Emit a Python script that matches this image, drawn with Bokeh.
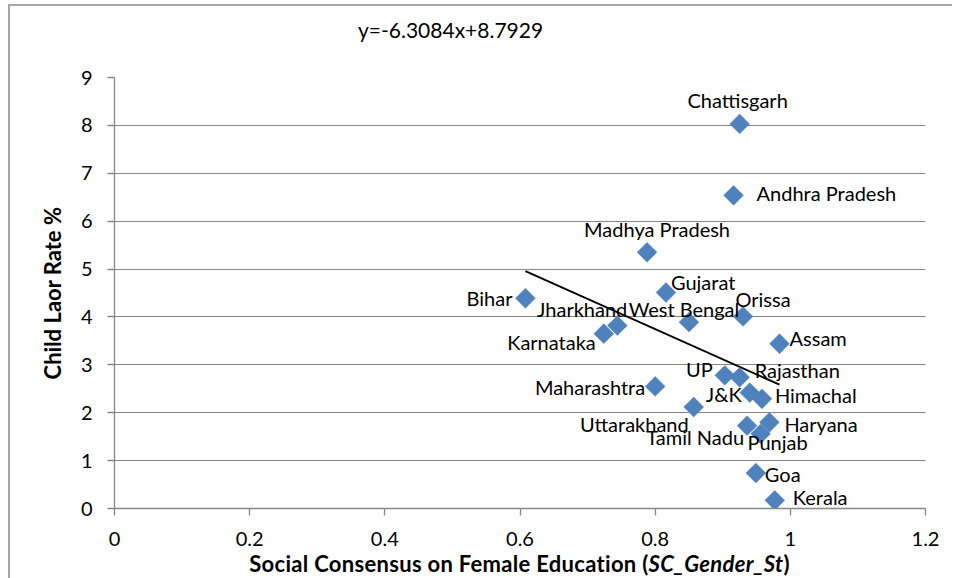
from bokeh.plotting import figure
from bokeh.models import FixedTicker, ColumnDataSource, Div
from bokeh.layouts import column
from bokeh.core.properties import value
from bokeh.embed import file_html
from bokeh.resources import INLINE

# ---------------- data ----------------
states = ["Chattisgarh", "Andhra Pradesh", "Madhya Pradesh", "Bihar", "Gujarat",
          "Jharkhand", "Karnataka", "West Bengal", "Orissa", "Assam", "UP",
          "Rajasthan", "J&K", "Himachal", "Maharashtra", "Uttarakhand",
          "Tamil Nadu", "Haryana", "Punjab", "Goa", "Kerala"]
sc_gender_st = [0.925, 0.916, 0.788, 0.608, 0.816, 0.744, 0.724, 0.850, 0.930,
                0.984, 0.903, 0.925, 0.940, 0.958, 0.800, 0.857, 0.936, 0.969,
                0.956, 0.949, 0.977]
child_labour_rate = [8.03, 6.54, 5.35, 4.39, 4.51, 3.82, 3.65, 3.89, 4.01, 3.44,
                     2.78, 2.74, 2.42, 2.29, 2.55, 2.12, 1.73, 1.80, 1.56, 0.74, 0.17]
trend_slope = -6.3084
trend_intercept = 8.7929
equation_text = "y=-6.3084x+8.7929"
x_ticks = [0, 0.2, 0.4, 0.6, 0.8, 1.0, 1.2]
x_tick_labels = ["0", "0.2", "0.4", "0.6", "0.8", "1", "1.2"]
y_ticks = [0, 1, 2, 3, 4, 5, 6, 7, 8, 9]
y_title = "Child Laor Rate %"
x_title_main = "Social Consensus on Female Education ("
x_title_italic = "SC_Gender_St"
x_title_end = ")"

# label placement (alignment, x offset px, y offset px; +y = down)
label_align = ["center", "left", "center", "right", "left", "right", "right", "center",
               "center", "left", "right", "left", "right", "left", "right", "right",
               "right", "left", "center", "left", "left"]
label_dx = [-2, 23, 10, -13, 5, 10, -8, -5, 20, 10, -12, 15, -8, 13, -10, -5, -3, 15, 17, 9, 18]
label_dy = [-24, -2, -23, 0, -11, -17, 8, -13, -17, -6, -6, -7, 1, -4, 1, 17, 11, 2, 8, 1, -3]

FONT = "Lato"
GRID = "#868686"
BLUE = "#4F81BD"

# trendline equation as real HTML text above the plot
eq_div = Div(
    text=(f'<div style="margin-left:348px;padding-top:4px;font-family:{FONT};'
          f'font-size:21px;line-height:40px;color:#000;white-space:nowrap;">'
          f'{equation_text}</div>'),
    width=942, height=44, margin=(0, 0, 0, 0))

p = figure(title=None, width=942, height=502, x_range=(0, 1.2), y_range=(0, 9),
           output_backend="svg", toolbar_location=None,
           min_border_left=104, min_border_right=27,
           min_border_top=27, min_border_bottom=44)
p.outline_line_color = None
p.background_fill_color = "white"
p.border_fill_color = "white"

p.xgrid.visible = False
p.ygrid.grid_line_color = GRID
p.ygrid.grid_line_width = 1

for ax in (p.xaxis[0], p.yaxis[0]):
    ax.axis_line_color = GRID
    ax.axis_line_width = 1.3
    ax.major_tick_line_color = GRID
    ax.major_tick_line_width = 1.3
    ax.major_tick_in = 0
    ax.major_tick_out = 7
    ax.minor_tick_line_color = None
    ax.major_label_text_font = FONT
    ax.major_label_text_font_size = "20px"
    ax.major_label_text_color = "#000000"

p.xaxis.ticker = FixedTicker(ticks=x_ticks)
p.xaxis.major_label_overrides = {t: l for t, l in zip(x_ticks, x_tick_labels)}
p.xaxis.major_label_standoff = 16
p.yaxis.ticker = FixedTicker(ticks=y_ticks)
p.yaxis.major_label_standoff = 15
p.yaxis.axis_label = y_title
p.yaxis.axis_label_text_font = FONT
p.yaxis.axis_label_text_font_size = "22px"
p.yaxis.axis_label_text_font_style = "bold"
p.yaxis.axis_label_text_color = "#000000"
p.yaxis.axis_label_standoff = 12

# trendline
tx = [min(sc_gender_st), max(sc_gender_st)]
ty = [trend_slope * v + trend_intercept for v in tx]
p.line(tx, ty, line_color="black", line_width=2)

# points
src = ColumnDataSource(dict(x=sc_gender_st, y=child_labour_rate, name=states,
                            align=label_align, dx=label_dx, dy=label_dy))
p.scatter("x", "y", source=src, marker="square", size=14, angle=0.785398,
          fill_color=BLUE, line_color=BLUE, line_width=0.5)
p.text("x", "y", text="name", source=src, x_offset="dx", y_offset="dy",
       text_align="align", text_baseline="middle",
       text_font=value(FONT), text_font_size="20px", text_color="#000000")

# x axis title (bold with an italic part) as real HTML text
x_title = Div(
    text=(f'<div style="width:811px;margin-left:104px;text-align:center;'
          f'font-family:{FONT};font-weight:bold;font-size:22px;letter-spacing:0.3px;'
          f'line-height:23px;color:#000;white-space:nowrap;">{x_title_main}'
          f'<i>{x_title_italic}</i>{x_title_end}</div>'),
    width=942, height=26, margin=(0, 0, 0, 0))

layout = column(eq_div, p, x_title, spacing=0)
layout.styles = {"border-left": "2px solid #a6a6a6", "border-top": "2px solid #a6a6a6",
                 "margin-top": "4px", "margin-left": "8px"}

open("out.html", "w").write(file_html(layout, INLINE))
